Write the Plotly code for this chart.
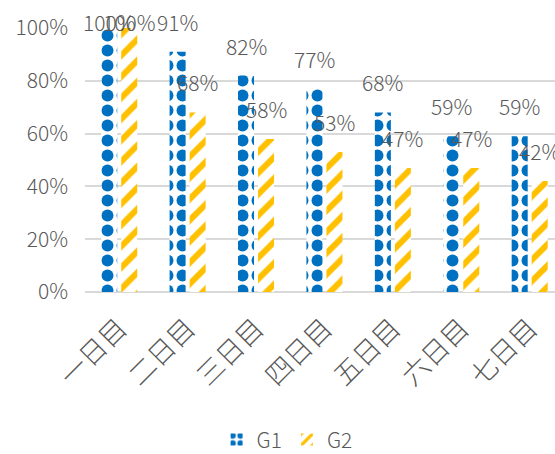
import plotly.graph_objects as go

categories = ["一日目", "二日目", "三日目", "四日目", "五日目", "六日目", "七日目"]
g1_values = [1.00, 0.91, 0.82, 0.77, 0.68, 0.59, 0.59]
g2_values = [1.00, 0.68, 0.58, 0.53, 0.47, 0.47, 0.42]
y_ticks = [0, 0.2, 0.4, 0.6, 0.8, 1.0]
y_tick_labels = ["0%", "20%", "40%", "60%", "80%", "100%"]

FONT = "Noto Sans CJK JP, Noto Sans, sans-serif"
TXT = "#595959"
BLUE = "#0070C0"
YELLOW = "#FFC000"

fig = go.Figure()
fig.add_trace(go.Bar(
    name="G1", x=categories, y=g1_values,
    marker=dict(color="white", line=dict(width=0),
                pattern=dict(shape=".", fgcolor=BLUE, bgcolor="white", fgopacity=1,
                             size=15, solidity=0.5, fillmode="replace")),
))
fig.add_trace(go.Bar(
    name="G2", x=categories, y=g2_values,
    marker=dict(color="white", line=dict(width=0),
                pattern=dict(shape="/", fgcolor=YELLOW, bgcolor="white", fgopacity=1,
                             size=15, solidity=0.4, fillmode="replace")),
))

annotations = []
for vals, shift in ((g1_values, -10), (g2_values, 10)):
    for c, v in zip(categories, vals):
        annotations.append(dict(
            x=c, y=v, xref="x", yref="y", text=f"{round(v*100)}%",
            showarrow=False, xshift=shift, yanchor="middle",
            yshift=30 if v < 0.95 else 6,
            font=dict(family=FONT, size=21, color=TXT, weight=300),
        ))

fig.update_layout(
    width=555, height=454,
    margin=dict(l=85, r=0, t=28, b=162, autoexpand=False),
    paper_bgcolor="white", plot_bgcolor="white",
    barmode="group", bargap=0.415, bargroupgap=0.2,
    font=dict(family=FONT, size=20, color=TXT, weight=300),
    showlegend=True,
    legend=dict(orientation="h", x=0.43, xanchor="center", y=-0.56, yanchor="middle",
                font=dict(family=FONT, size=21, color=TXT, weight=300), itemwidth=30),
    annotations=annotations,
    xaxis=dict(range=[-0.5, 6.37], tickangle=-45, showgrid=False, automargin=False,
               showline=False, ticks="", ticklabelstandoff=14,
               tickfont=dict(family=FONT, size=27, color=TXT, weight=300)),
    yaxis=dict(range=[0, 1.0], tickvals=y_ticks, ticktext=y_tick_labels, automargin=False,
               showgrid=True, gridcolor="#D9D9D9", gridwidth=1.5,
               zeroline=True, zerolinecolor="#D9D9D9", zerolinewidth=1.5,
               ticks="", ticklabelstandoff=16,
               tickfont=dict(family=FONT, size=21, color=TXT, weight=300)),
)

fig.write_html("out.html")
